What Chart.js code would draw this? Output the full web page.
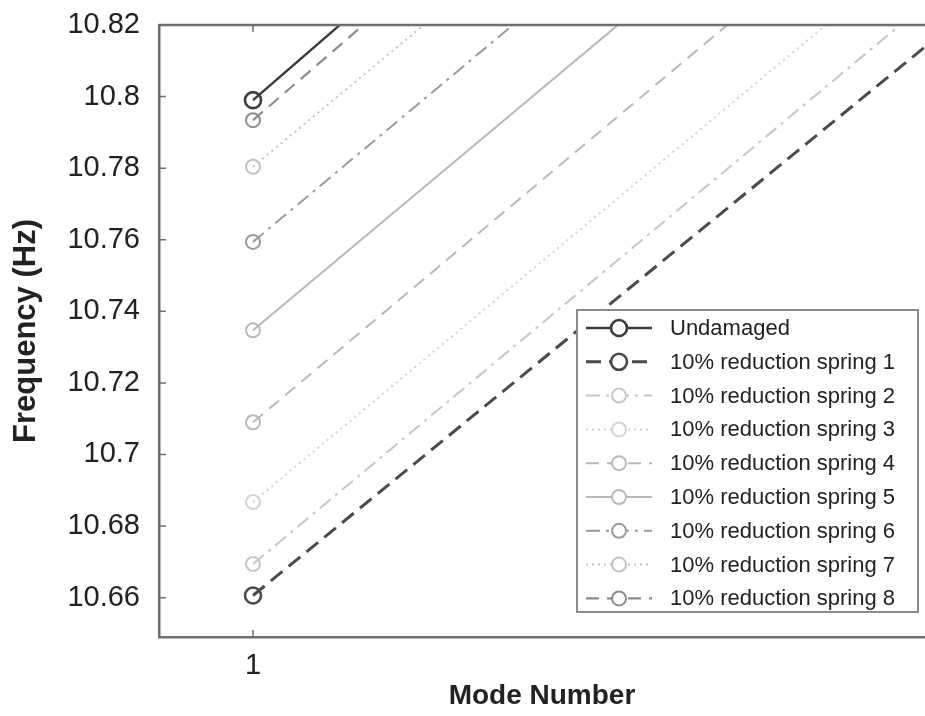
<!DOCTYPE html>
<html>
<head>
<meta charset="utf-8">
<title>Frequency vs Mode Number</title>
<script src="https://cdn.jsdelivr.net/npm/chart.js@4.4.1/dist/chart.umd.min.js"></script>
<style>
   html, body { margin: 0; padding: 0; background: #fff; overflow: hidden; }
   #wrap { width: 925px; height: 716px; position: relative; }
</style>
</head>
<body>
<div id="wrap"><canvas id="chart-freq"></canvas></div>
<script>
// modes on the x axis, frequencies in Hz
var modes = [1, 2];
var undamaged = [10.799, 15.348];
var spring1 = [10.6606, 14.949];
var spring2 = [10.6694, 15.045];
var spring3 = [10.6867, 15.062];
var spring4 = [10.709, 15.11];
var spring5 = [10.7347, 15.129];
var spring6 = [10.7594, 15.142];
var spring7 = [10.7804, 15.14];
var spring8 = [10.7934, 15.326];

var seriesNames = [
   "Undamaged",
   "10% reduction spring 1",
   "10% reduction spring 2",
   "10% reduction spring 3",
   "10% reduction spring 4",
   "10% reduction spring 5",
   "10% reduction spring 6",
   "10% reduction spring 7",
   "10% reduction spring 8",
];
var seriesValues = [undamaged, spring1, spring2, spring3, spring4, spring5, spring6, spring7, spring8];

var yTicks = [10.66, 10.68, 10.7, 10.72, 10.74, 10.76, 10.78, 10.8, 10.82];
var xTicks = [1];

// line look per series: colour, width, dash
var styles = [
   { color: "#3c3c3c", width: 2.4, dash: [], radius: 8 },
   { color: "#4a4a4a", width: 3, dash: [15, 8], radius: 8 },
   { color: "#c6c6c6", width: 2, dash: [14, 6, 3, 6], radius: 7 },
   { color: "#d2d2d2", width: 2, dash: [2, 4], radius: 7 },
   { color: "#b9b9b9", width: 2, dash: [13, 8], radius: 7 },
   { color: "#b8b8b8", width: 2, dash: [], radius: 7 },
   { color: "#9a9a9a", width: 2, dash: [14, 6, 3, 6], radius: 7 },
   { color: "#c2c2c2", width: 2, dash: [2, 4], radius: 7 },
   { color: "#8c8c8c", width: 2.2, dash: [13, 8], radius: 7 },
];

var datasets = seriesNames.map(function (name, i) {
   return {
      label: name,
      data: modes.map(function (m, j) {
         return { x: m, y: seriesValues[i][j] };
      }),
      borderColor: styles[i].color,
      borderWidth: styles[i].width,
      borderDash: styles[i].dash,
      pointStyle: "circle",
      pointRadius: styles[i].radius,
      pointBorderWidth: i < 2 ? 2.6 : 2,
      pointBorderColor: styles[i].color,
      pointBackgroundColor: "rgba(255,255,255,0)",
      tension: 0,
      fill: false,
   };
});

var axisColor = "#6e6e6e";

// box, inward ticks and the legend inside the plot
var framePlugin = {
   id: "frame",
   afterDatasetsDraw: function (chart) {
      var ctx = chart.ctx;
      var a = chart.chartArea;
      var xs = chart.scales.x;
      var ys = chart.scales.y;
      ctx.save();
      ctx.strokeStyle = axisColor;
      ctx.lineWidth = 2.5;
      ctx.setLineDash([]);
      ctx.beginPath();
      ctx.moveTo(a.left, a.top);
      ctx.lineTo(a.right, a.top);
      ctx.stroke();

      ctx.lineWidth = 1.5;
      ctx.beginPath();
      yTicks.forEach(function (v) {
         var py = ys.getPixelForValue(v);
         ctx.moveTo(a.left, py);
         ctx.lineTo(a.left + 7, py);
      });
      xTicks.forEach(function (v) {
         var px = xs.getPixelForValue(v);
         ctx.moveTo(px, a.bottom);
         ctx.lineTo(px, a.bottom - 7);
         ctx.moveTo(px, a.top);
         ctx.lineTo(px, a.top + 7);
      });
      ctx.stroke();

      // legend
      var bx = 577, by = 310, bw = 341, bh = 302;
      ctx.fillStyle = "#fff";
      ctx.fillRect(bx, by, bw, bh);
      ctx.strokeStyle = "#8a8a8a";
      ctx.lineWidth = 2;
      ctx.strokeRect(bx, by, bw, bh);
      ctx.font = "22px 'Liberation Sans', Arial, sans-serif";
      ctx.textBaseline = "middle";
      ctx.textAlign = "left";
      chart.data.datasets.forEach(function (ds, i) {
         var cy = by + 18 + i * 33.8;
         ctx.strokeStyle = ds.borderColor;
         ctx.lineWidth = ds.borderWidth;
         ctx.setLineDash(ds.borderDash);
         ctx.beginPath();
         ctx.moveTo(586, cy);
         ctx.lineTo(652, cy);
         ctx.stroke();
         ctx.setLineDash([]);
         ctx.lineWidth = ds.pointBorderWidth;
         ctx.beginPath();
         ctx.arc(619, cy, ds.pointRadius, 0, Math.PI * 2);
         ctx.fillStyle = "#fff";
         ctx.fill();
         ctx.stroke();
         ctx.fillStyle = "#222";
         ctx.fillText(ds.label, 670, cy + 1);
      });
      ctx.restore();
   },
};

var ctxFreq = document.getElementById("chart-freq").getContext("2d");

window.graficaFreq = new Chart(ctxFreq, {
   type: "line",
   data: { datasets: datasets },
   plugins: [framePlugin],
   options: {
      responsive: true,
      maintainAspectRatio: false,
      animation: false,
      layout: {
         autoPadding: false,
         padding: { top: 25, right: 0, bottom: 0, left: 0 },
      },
      plugins: {
         legend: { display: false },
         tooltip: { enabled: false },
      },
      scales: {
         x: {
            type: "linear",
            min: 0.995,
            max: 1.035745,
            afterBuildTicks: function (scale) {
               scale.ticks = xTicks.map(function (v) { return { value: v }; });
            },
            afterFit: function (scale) {
               scale.height = 79;
               scale.paddingLeft = 0;
               scale.paddingRight = 0;
            },
            grid: { display: false, drawTicks: false },
            border: { display: true, color: axisColor, width: 2.5 },
            ticks: {
               color: "#222",
               padding: 12,
               maxRotation: 0,
               font: { size: 29, family: "'Liberation Sans', Arial, sans-serif" },
               callback: function (v) { return String(v); },
            },
            title: {
               display: true,
               text: "Mode Number",
               color: "#222",
               padding: { top: 0, bottom: 3 },
               font: { size: 28, weight: "bold", family: "'Liberation Sans', Arial, sans-serif" },
            },
         },
         y: {
            min: 10.649,
            max: 10.82,
            afterBuildTicks: function (scale) {
               scale.ticks = yTicks.map(function (v) { return { value: v }; });
            },
            afterFit: function (scale) {
               scale.width = 159;
               scale.paddingTop = 0;
               scale.paddingBottom = 0;
            },
            grid: { display: false, drawTicks: false },
            border: { display: true, color: axisColor, width: 2.5 },
            ticks: {
               color: "#222",
               padding: 19,
               font: { size: 29, family: "'Liberation Sans', Arial, sans-serif" },
               callback: function (v) { return String(Math.round(v * 100) / 100); },
            },
            title: {
               display: true,
               text: "Frequency (Hz)",
               color: "#222",
               padding: { top: 8, bottom: 0 },
               font: { size: 31, weight: "bold", family: "'Liberation Sans', Arial, sans-serif" },
            },
         },
      },
   },
});
</script>
</body>
</html>
